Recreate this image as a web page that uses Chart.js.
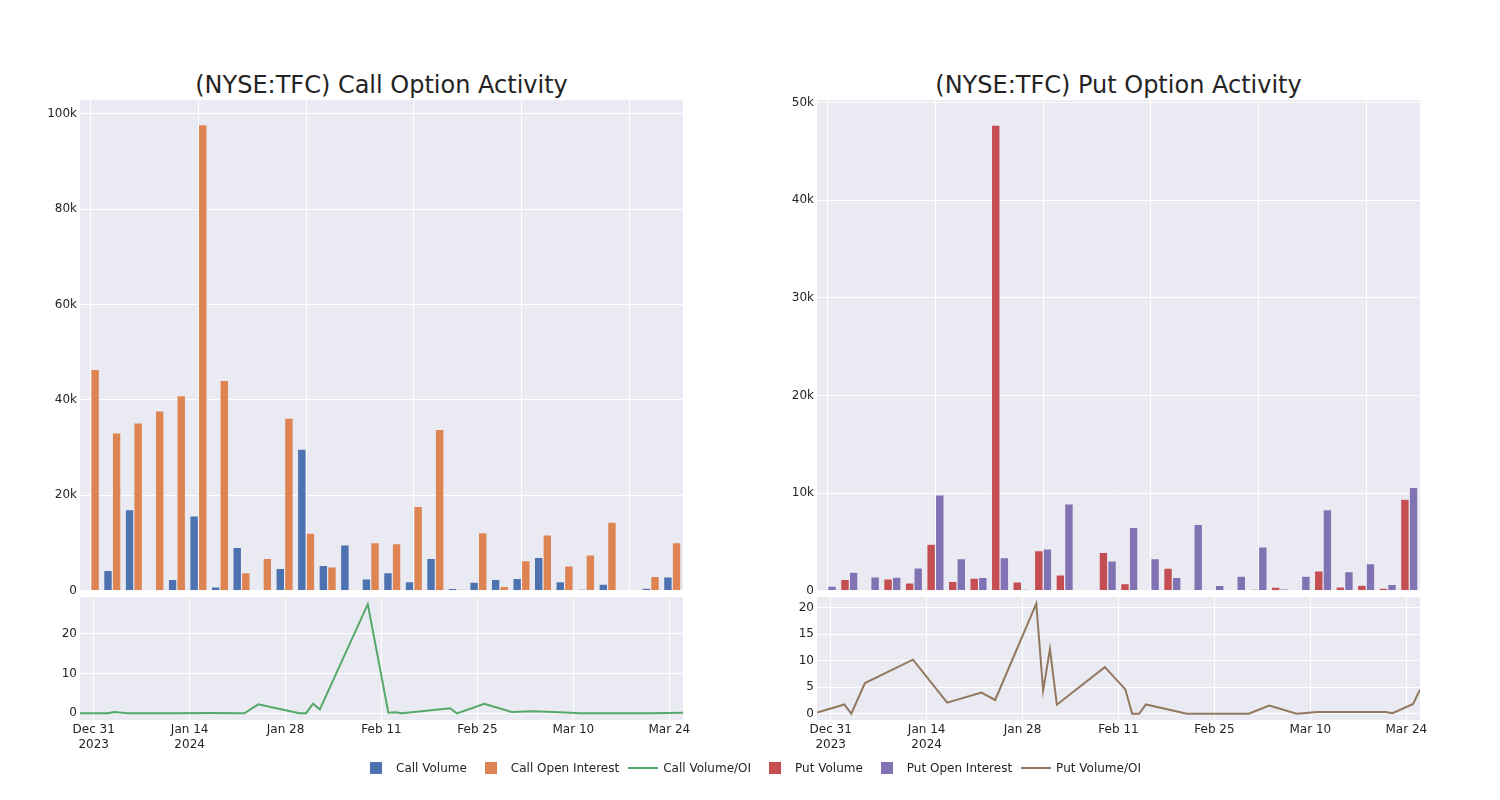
<!DOCTYPE html>
<html>
<head>
<meta charset="utf-8">
<script src="https://cdn.jsdelivr.net/npm/chart.js@4.4.1/dist/chart.umd.min.js"></script>
<style>
  body { margin: 0; background: #fff; font-family: "DejaVu Sans", sans-serif; }
  #wrap { position: relative; width: 1500px; height: 800px; overflow: hidden; }
  canvas { position: absolute; }
  .title { position: absolute; top: 71px; width: 603px; text-align: center; font-size: 24px; line-height: 28px; color: #242424; white-space: nowrap; }
  #legend { position: absolute; top: 759px; left: 356px; display: flex; font-size: 12px; color: #242424; }
  .item { display: flex; align-items: center; height: 18px; margin-right: 4px; }
  .mk { width: 40px; height: 18px; display: flex; align-items: center; justify-content: center; }
  .sq { width: 12px; height: 12px; }
  .ln { width: 30px; height: 2px; }
</style>
</head>
<body>
<div id="wrap">
  <div class="title" style="left:80px">(NYSE:TFC) Call Option Activity</div>
  <div class="title" style="left:817px">(NYSE:TFC) Put Option Activity</div>
  <canvas id="callBar" width="683" height="511" style="left:0;top:90px"></canvas>
  <canvas id="putBar" width="683" height="511" style="left:737px;top:90px"></canvas>
  <canvas id="callLine" width="703" height="178" style="left:0;top:587px"></canvas>
  <canvas id="putLine" width="703" height="178" style="left:737px;top:587px"></canvas>
  <div id="legend"></div>
</div>
<script>
// bar groups (one per period, labels not shown on the chart)
const groups = ['1','2','3','4','5','6','7','8','9','10','11','12','13','14',
                '15','16','17','18','19','20','21','22','23','24','25','26','27','28'];

const callVolume = [200, 4300, 17000, 0, 2400, 15700, 800, 9100, 150, 4700, 29700, 5300, 9600, 2500,
                    3800, 1900, 6800, 500, 1800, 2400, 2600, 7000, 1900, 350, 1400, 0, 550, 2900];
const callOpenInterest = [46400, 33100, 35200, 37700, 40900, 97700, 44100, 3800, 6800, 36200, 12100, 5000, 200, 10100,
                          9900, 17700, 33800, 300, 12200, 900, 6300, 11700, 5200, 7500, 14400, 200, 3000, 10100];

const putVolume = [100, 1160, 100, 1230, 820, 4780, 960, 1300, 47700, 920, 4100, 1640, 100, 3940,
                   720, 30, 2330, 0, 0, 30, 170, 380, 70, 2050, 410, 580, 270, 9380];
const putOpenInterest = [480, 1900, 1430, 1400, 2350, 9830, 3300, 1370, 3400, 170, 4300, 8900, 0, 3050,
                         6500, 3300, 1370, 6800, 550, 1500, 4500, 200, 1500, 8300, 1950, 2770, 650, 10580];

const callDates = ['2023-12-29','2024-01-02','2024-01-03','2024-01-05','2024-01-12','2024-01-17','2024-01-22',
                   '2024-01-24','2024-01-30','2024-01-31','2024-02-01','2024-02-02','2024-02-09','2024-02-12',
                   '2024-02-13','2024-02-14','2024-02-21','2024-02-22','2024-02-26','2024-03-01','2024-03-04',
                   '2024-03-08','2024-03-11','2024-03-21','2024-03-26'];
const callRatio = [0, 0, 0.35, 0, 0.05, 0.1, 0, 2.25, 0, 0.05, 2.4, 1.0, 27.4, 0.15,
                   0.3, 0, 1.3, 0, 2.4, 0.35, 0.5, 0.25, 0, 0, 0.15];

const putDates = ['2023-12-29','2024-01-02','2024-01-03','2024-01-05','2024-01-12','2024-01-17','2024-01-22',
                  '2024-01-24','2024-01-30','2024-01-31','2024-02-01','2024-02-02','2024-02-09','2024-02-12',
                  '2024-02-13','2024-02-14','2024-02-15','2024-02-21','2024-03-01','2024-03-04','2024-03-08',
                  '2024-03-11','2024-03-21','2024-03-22','2024-03-25','2024-03-26'];
const putRatio = [0.25, 1.75, 0, 5.8, 10.2, 2.1, 4.0, 2.6, 20.8, 4.4, 12.2, 1.7, 8.8, 4.6,
                  0, 0, 1.75, 0, 0, 1.55, 0, 0.35, 0.35, 0.1, 1.85, 4.6];

// axis ticks
const callBarTicks = [0, 20000, 40000, 60000, 80000, 100000];
const putBarTicks = [0, 10000, 20000, 30000, 40000, 50000];
const callRatioTicks = [0, 10, 20];
const putRatioTicks = [0, 5, 10, 15, 20];
// date axis ticks, as days after 2023-12-31
const dateTicks = [0, 14, 28, 42, 56, 70, 84];
const dateTickLabels = [['Dec 31', '2023'], ['Jan 14', '2024'], 'Jan 28', 'Feb 11', 'Feb 25', 'Mar 10', 'Mar 24'];

const colors = {
  callVol: '#4C72B0', callOI: '#DD8452', callRatio: '#55A868',
  putVol: '#C44E52', putOI: '#8172B3', putRatio: '#937860'
};

const BG = '#EAEAF2';
const TEXT = '#242424';
Chart.defaults.font.family = '"DejaVu Sans", sans-serif';
Chart.defaults.font.size = 12;
Chart.defaults.color = TEXT;

const plotBg = {
  id: 'plotBg',
  beforeDraw(chart) {
    const a = chart.chartArea;
    chart.ctx.save();
    chart.ctx.fillStyle = BG;
    chart.ctx.fillRect(a.left, a.top, a.right - a.left, a.bottom - a.top);
    chart.ctx.restore();
  }
};

const day0 = Date.parse('2023-12-31');
function toDays(d) { return (Date.parse(d) - day0) / 86400000; }

function kFmt(v) { return v === 0 ? '0' : (v / 1000) + 'k'; }

function yAxis(min, max, ticks, fmt) {
  return {
    min: min, max: max,
    afterFit(s) { s.width = 80; },
    afterBuildTicks(s) { s.ticks = ticks.map(v => ({ value: v })); },
    border: { display: false },
    grid: { color: '#fff', lineWidth: 1, drawTicks: false },
    ticks: { padding: 3, callback: fmt }
  };
}

function barChart(id, vol, oi, c1, c2, label1, label2, max, ticks) {
  new Chart(document.getElementById(id), {
    type: 'bar',
    data: {
      labels: groups,
      datasets: [
        { label: label1, data: vol, backgroundColor: c1, borderColor: 'rgba(234,234,242,0.8)', borderWidth: 0.6 },
        { label: label2, data: oi, backgroundColor: c2, borderColor: 'rgba(234,234,242,0.8)', borderWidth: 0.6 }
      ]
    },
    options: {
      responsive: false,
      animation: false,
      layout: { padding: { top: 10, bottom: 10 } },
      datasets: { bar: { categoryPercentage: 0.8, barPercentage: 1.0 } },
      plugins: { legend: { display: false }, tooltip: { enabled: false } },
      scales: {
        x: {
          offset: true,
          afterFit(s) { s.height = 0; },
          border: { display: false },
          grid: {
            offset: false, drawTicks: false,
            color: ctx => (ctx.index % 5 === 0 ? '#fff' : 'rgba(0,0,0,0)')
          },
          ticks: { display: false, autoSkip: false }
        },
        y: yAxis(0, max, ticks, kFmt)
      }
    },
    plugins: [plotBg]
  });
}

function lineChart(id, dates, values, color, label, min, max, ticks) {
  const pts = dates.map((d, i) => ({ x: toDays(d), y: values[i] }));
  new Chart(document.getElementById(id), {
    type: 'line',
    data: {
      datasets: [{ label: label, data: pts, borderColor: color, borderWidth: 2, pointRadius: 0, tension: 0, fill: false }]
    },
    options: {
      responsive: false,
      animation: false,
      layout: { padding: { top: 10, right: 20 } },
      plugins: { legend: { display: false }, tooltip: { enabled: false } },
      scales: {
        x: {
          type: 'linear',
          min: pts[0].x, max: pts[pts.length - 1].x,
          afterFit(s) { s.height = 45; },
          afterBuildTicks(s) { s.ticks = dateTicks.map(v => ({ value: v })); },
          border: { display: false },
          grid: { color: '#fff', drawTicks: false },
          ticks: {
            padding: 3, maxRotation: 0, autoSkip: false,
            callback: (v, i) => dateTickLabels[i]
          }
        },
        y: yAxis(min, max, ticks, v => v)
      }
    },
    plugins: [plotBg]
  });
}

barChart('callBar', callVolume, callOpenInterest, colors.callVol, colors.callOI, 'Call Volume', 'Call Open Interest', 102800, callBarTicks);
barChart('putBar', putVolume, putOpenInterest, colors.putVol, colors.putOI, 'Put Volume', 'Put Open Interest', 50250, putBarTicks);
lineChart('callLine', callDates, callRatio, colors.callRatio, 'Call Volume/OI', -1.67, 29.15, callRatioTicks);
lineChart('putLine', putDates, putRatio, colors.putRatio, 'Put Volume/OI', -1.18, 22.0, putRatioTicks);

// shared legend
const legendItems = [
  ['Call Volume', colors.callVol, 'sq'], ['Call Open Interest', colors.callOI, 'sq'],
  ['Call Volume/OI', colors.callRatio, 'ln'], ['Put Volume', colors.putVol, 'sq'],
  ['Put Open Interest', colors.putOI, 'sq'], ['Put Volume/OI', colors.putRatio, 'ln']
];
const legend = document.getElementById('legend');
legendItems.forEach(([text, color, kind]) => {
  const item = document.createElement('div');
  item.className = 'item';
  const box = document.createElement('span');
  box.className = 'mk';
  const mark = document.createElement('span');
  mark.className = kind;
  mark.style.background = color;
  box.appendChild(mark);
  item.appendChild(box);
  item.appendChild(document.createTextNode(text));
  legend.appendChild(item);
});
</script>
</body>
</html>
